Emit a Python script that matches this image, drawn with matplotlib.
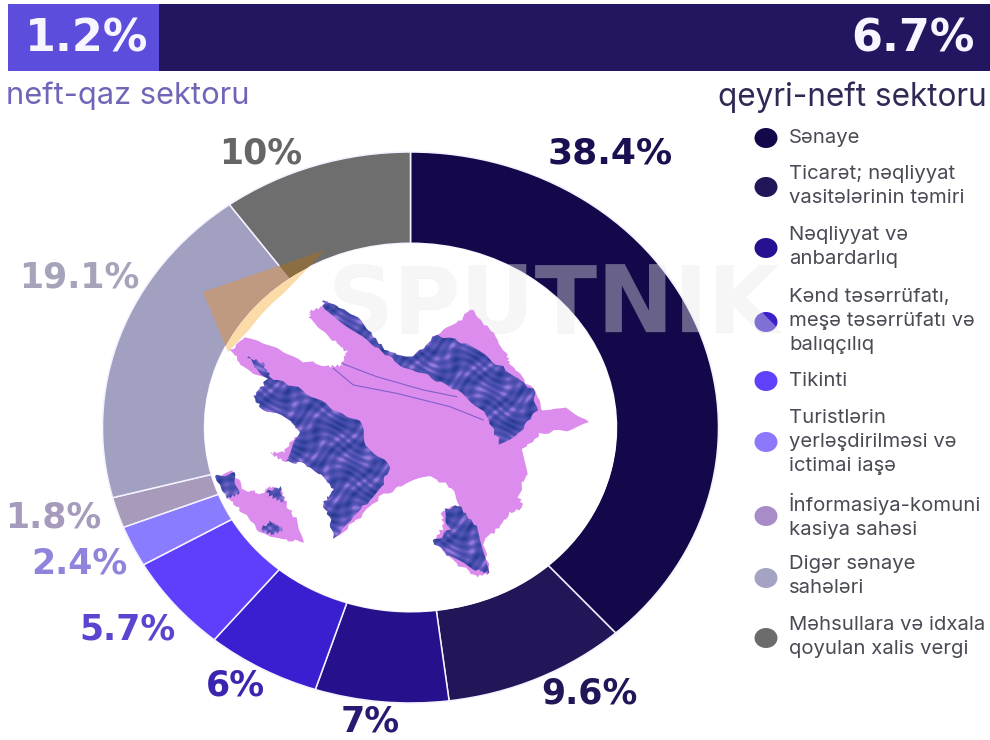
import numpy as np
import matplotlib
matplotlib.use("Agg")
import matplotlib.pyplot as plt
from matplotlib.patches import Polygon, Ellipse, Rectangle
from matplotlib.colors import LinearSegmentedColormap

# ---- data ----
sector_names = ["neft-qaz sektoru", "qeyri-neft sektoru"]
sector_values = ["1.2%", "6.7%"]
categories = ["Sənaye", "Ticarət; nəqliyyat\nvasitələrinin təmiri", "Nəqliyyat və\nanbardarlıq",
              "Kənd təsərrüfatı,\nmeşə təsərrüfatı və\nbalıqçılıq", "Tikinti",
              "Turistlərin\nyerləşdirilməsi və\nictimai iaşə", "İnformasiya-komuni\nkasiya sahəsi",
              "Digər sənaye\nsahələri", "Məhsullara və idxala\nqoyulan xalis vergi"]
values = [38.4, 9.6, 7, 6, 5.7, 2.4, 1.8, 19.1, 10]
value_labels = ["38.4%", "9.6%", "7%", "6%", "5.7%", "2.4%", "1.8%", "19.1%", "10%"]

# ---- styles and layout ----
W, H = 990, 740
wedge_colors = ["#14084a", "#221558", "#26108c", "#3a1fd0", "#5f3ffb", "#8a7cff", "#a79abb", "#a2a0c0", "#6e6e6e"]
legend_colors = ["#14084a", "#221558", "#271190", "#3a20c8", "#6040fb", "#8c78fb", "#a78cc8", "#a5a3c3", "#6c6c6c"]
label_colors = ["#1a0f50", "#221558", "#271a70", "#3a25b0", "#5a45d0", "#8f84dc", "#a69bbd", "#a5a4bb", "#666666"]
label_sizes = [26, 25, 25, 25, 25, 25, 25, 25, 25]
label_xy = [(610, 153), (589, 694), (370, 722), (235, 685), (127, 630), (79, 563), (53, 518), (79, 277), (261, 153)]
legend_dot_y = [138, 187, 248, 322, 381, 442, 516, 578, 638]
legend_text_y = [138, 186, 247, 321, 381, 442, 516, 576, 637]
CX, CY, RX, RY = 410.5, 427.5, 308, 275.5
IRX, IRY = 206, 184

fig = plt.figure(figsize=(W / 100, H / 100), dpi=100, facecolor="white")

# donut (stretched, as in the reference)
ax = fig.add_axes([(CX - RX) / W, 1 - (CY + RY) / H, 2 * RX / W, 2 * RY / H])
wedges, _ = ax.pie(values, colors=wedge_colors, startangle=90, counterclock=False, radius=1,
                   wedgeprops=dict(width=1 - IRX / RX, edgecolor="#f4f2ff", linewidth=1.1))
ax.set_aspect("auto")
ax.set_xlim(-1, 1)
ax.set_ylim(-1, 1)

# pixel overlay
ov = fig.add_axes([0, 0, 1, 1], facecolor="none")
ov.set_xlim(0, W)
ov.set_ylim(H, 0)
ov.axis("off")

# top bar
ov.add_patch(Rectangle((8, 4), 151, 67, fc="#5d4ddd", ec="none"))
ov.add_patch(Rectangle((159, 4), W - 159, 67, fc="#231560", ec="none"))
bold = dict(family="DejaVu Sans", fontweight="bold")
ov.text(87, 39, sector_values[0], color="#f7f5ff", fontsize=32, ha="center", va="center", **bold)
ov.text(975, 39, sector_values[1], color="#f7f5ff", fontsize=32, ha="right", va="center", **bold)
ov.text(6, 96, sector_names[0], color="#6f66b8", fontsize=22.2, ha="left", va="center", family="Inter")
ov.text(987, 97, sector_names[1], color="#2f2a55", fontsize=22.7, ha="right", va="center", family="Inter")

# value labels
for t, (x, y), c, s in zip(value_labels, label_xy, label_colors, label_sizes):
    ov.text(x, y, t, color=c, fontsize=s, ha="center", va="center", **bold)

# legend
for name, c, dy, ty in zip(categories, legend_colors, legend_dot_y, legend_text_y):
    ov.add_patch(Ellipse((766, dy), 23, 20, fc=c, ec="none"))
    ov.text(789, ty, name, color="#4a4a55", fontsize=14.6, ha="left", va="center",
            family="Inter", linespacing=1.45)

# orange overlay on the ring and hole
tri = [(203, 292), (325, 250), (228, 352)]
for idx, col in ((7, "#c09a80"), (8, "#8b6f42")):
    p = Polygon(tri, fc=col, ec="none", zorder=2)
    ov.add_patch(p)
    p.set_clip_path(wedges[idx])
hole = Ellipse((CX, CY), 2 * IRX, 2 * IRY, fc="white", ec="none", zorder=1.5)
ov.add_patch(hole)
p = Polygon(tri, fc="#fbdba8", ec="none", zorder=2)
ov.add_patch(p)
p.set_clip_path(hole)
ov.add_patch(Ellipse((CX + 6, CY + 2), 2 * (IRX - 6), 2 * (IRY - 2), fc="white", ec="none", zorder=2.1))

# watermark
ov.text(553, 307, "SPUTNIK", color="#888888", alpha=0.10, fontsize=66, ha="center", va="center", zorder=3, **bold)
ov.text(553, 306, "SPUTNIK", color="white", alpha=0.33, fontsize=66, ha="center", va="center", zorder=3.1, **bold)


# map (decorative image)
def z(points):
    return [(190 + a / 3, 220 + b / 3) for a, b in points]


def rough(points, amp=1.4):
    pts = np.array(points + [points[0]], float)
    out = []
    for i in range(len(pts) - 1):
        for s in np.linspace(0, 1, 7, endpoint=False):
            q = pts[i] + s * (pts[i + 1] - pts[i])
            out.append((q[0] + amp * np.sin(q[1] * 1.7 + q[0] * 0.6), q[1] + amp * np.cos(q[0] * 1.9 - q[1] * 0.4)))
    return out


main = z([(120, 390), (170, 350), (250, 385), (330, 420), (420, 440), (455, 435), (470, 395), (430, 360), (360, 300),
          (360, 275), (400, 260), (470, 300), (540, 350), (590, 400), (670, 410), (740, 345), (800, 310), (845, 265),
          (900, 330), (950, 400), (960, 430), (1030, 510), (1060, 570), (1130, 565), (1200, 610), (1130, 630),
          (1050, 640), (1000, 690), (1010, 760), (985, 830), (1000, 860), (960, 880), (920, 930), (880, 960),
          (900, 1060), (860, 1070), (800, 1030), (730, 965), (760, 920), (755, 870), (810, 855), (780, 800),
          (720, 770), (650, 790), (570, 830), (500, 900), (430, 960), (420, 900), (400, 850), (430, 810), (400, 770),
          (340, 730), (285, 725), (240, 700), (280, 695), (330, 640), (300, 600), (210, 560), (190, 530), (230, 480),
          (160, 440)])
nax = z([(70, 770), (130, 755), (160, 810), (215, 820), (240, 800), (275, 810), (290, 855), (320, 900), (345, 965),
         (290, 960), (210, 935), (150, 870), (110, 830)])
dark_regions = [
    z([(400, 245), (470, 270), (540, 330), (590, 395), (670, 410), (740, 345), (830, 370), (920, 430), (1030, 510),
       (1040, 570), (990, 640), (930, 670), (880, 570), (800, 510), (700, 460), (620, 430), (560, 380), (480, 320),
       (400, 265)]),
    z([(170, 410), (220, 430), (240, 470), (340, 510), (430, 570), (510, 600), (530, 680), (600, 740), (570, 810),
       (500, 880), (430, 960), (420, 900), (400, 850), (430, 810), (400, 770), (340, 730), (285, 725), (330, 640),
       (300, 600), (210, 560), (190, 530), (230, 480)]),
    z([(760, 870), (810, 855), (860, 920), (900, 1060), (860, 1050), (780, 1010), (730, 965), (780, 930)]),
    z([(75, 770), (130, 760), (145, 820), (110, 835)]),
    z([(210, 930), (240, 905), (280, 925), (250, 945)]),
    z([(225, 815), (270, 800), (285, 850), (245, 830)]),
]
ov.add_patch(Polygon(rough(main), fc="#dc8cec", ec="none", zorder=4))
ov.add_patch(Polygon(rough(nax), fc="#dc8cec", ec="none", zorder=4))

xx, yy = np.meshgrid(np.arange(210, 620), np.arange(290, 590))
wx = xx + 5 * np.sin(yy * 0.13 + xx * 0.07)
wy = yy + 5 * np.sin(xx * 0.11 - yy * 0.05)
tex = (np.sin(wx * 0.47 + wy * 0.29) + np.sin(wx * 0.23 - wy * 0.71) + 1.2 * np.sin((wx + 2 * wy) * 0.11)) / 3.2
cmap = LinearSegmentedColormap.from_list("m", ["#28388f", "#3f4aa8", "#5a56b8", "#9a80e0"])
for region in dark_regions:
    clip = Polygon(rough(region), transform=ov.transData, fc="none", ec="none")
    ov.add_patch(clip)
    im = ov.imshow(tex, cmap=cmap, extent=(210, 620, 590, 290), zorder=4.2, aspect="auto", interpolation="bilinear")
    im.set_clip_path(clip)
for seg in ([(430, 445), (490, 495), (620, 520), (780, 560), (880, 600)],
            [(455, 430), (560, 470), (700, 510), (800, 530)]):
    xs, ys = zip(*z(seg))
    ov.plot(xs, ys, color="#6a55c0", lw=0.8, alpha=0.8, zorder=4.3)
ov.set_xlim(0, W)
ov.set_ylim(H, 0)

fig.savefig("out.png", dpi=100, facecolor="white")
